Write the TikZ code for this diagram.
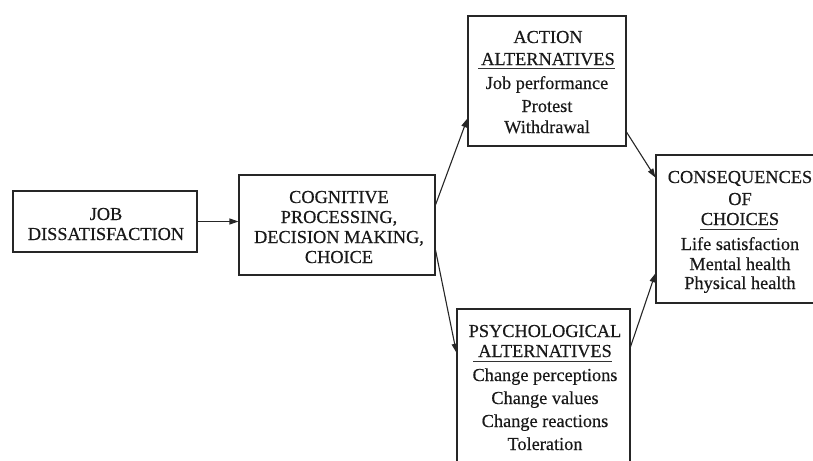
\documentclass[tikz,border=0pt]{standalone}
\usepackage{fontspec}
\setmainfont{Liberation Serif}
\usetikzlibrary{arrows.meta,calc}
\begin{document}
\begin{tikzpicture}[x=1pt,y=-1pt,
  box/.style={draw=black!85, line width=1.1pt, inner sep=0pt},
  lbl/.style={font=\fontsize{18.3}{20}\selectfont\addfontfeature{FakeBold=0.4}, text=black!90, inner sep=0pt, anchor=base},
  flow/.style={draw=black!85, line width=1.1pt, -{Triangle[length=9pt,width=6pt]}},
  rulebar/.style={draw=black!80, line width=1pt}]
\useasboundingbox (0,0) rectangle (813,460);
\clip (0,0) rectangle (813,460);

% the five boxes
\node[box, minimum width=184pt, minimum height=61pt]  (job)  at (105,221.5) {};
\node[box, minimum width=196pt, minimum height=100pt] (cog)  at (337,225)   {};
\node[box, minimum width=158pt, minimum height=130pt] (act)  at (547,81)    {};
\node[box, minimum width=170pt, minimum height=148pt] (cons) at (741,229)   {};
\node[box, minimum width=173pt, minimum height=171pt] (psy)  at (543.5,394.5) {};

% job dissatisfaction
\node[lbl] (j1) at (106,220) {JOB};
\node[lbl] (j2) at (106,240) {DISSATISFACTION};

% cognitive processing
\node[lbl] (c1) at (339,203) {COGNITIVE};
\node[lbl] (c2) at (339,223) {PROCESSING,};
\node[lbl] (c3) at (339,243) {DECISION MAKING,};
\node[lbl] (c4) at (339,263) {CHOICE};

% action alternatives
\node[lbl] (a1) at (548,43)  {ACTION};
\node[lbl] (a2) at (548,65)  {ALTERNATIVES};
\draw[rulebar] (478,68.5) -- (615,68.5);
\node[lbl] (a3) at (547,89)  {Job performance};
\node[lbl] (a4) at (547,112) {Protest};
\node[lbl] (a5) at (547,133) {Withdrawal};

% consequences of choices
\node[lbl] (q1) at (740,183) {CONSEQUENCES};
\node[lbl] (q2) at (740,205) {OF};
\node[lbl] (q3) at (740,225) {CHOICES};
\draw[rulebar] (700,229) -- (777,229);
\node[lbl] (q4) at (740,250) {Life satisfaction};
\node[lbl] (q5) at (740,270) {Mental health};
\node[lbl] (q6) at (740,289) {Physical health};

% psychological alternatives
\node[lbl] (p1) at (545,337) {PSYCHOLOGICAL};
\node[lbl] (p2) at (545,357) {ALTERNATIVES};
\draw[rulebar] (473,361) -- (612,361);
\node[lbl] (p3) at (545,381) {Change perceptions};
\node[lbl] (p4) at (545,404) {Change values};
\node[lbl] (p5) at (545,427) {Change reactions};
\node[lbl] (p6) at (545,450) {Toleration};

% connectors
\draw[flow] (job.east) -- (job.east -| cog.west);
\draw[flow] ($(cog.north east)!0.30!(cog.south east)$) -- ($(act.north west)!0.785!(act.south west)$);
\draw[flow] ($(cog.north east)!0.75!(cog.south east)$) -- ($(psy.north west)!0.257!(psy.south west)$);
\draw[flow] ($(act.north east)!0.89!(act.south east)$) -- ($(cons.north west)!0.155!(cons.south west)$);
\draw[flow] ($(psy.north east)!0.222!(psy.south east)$) -- ($(cons.north west)!0.797!(cons.south west)$);
\end{tikzpicture}
\end{document}
